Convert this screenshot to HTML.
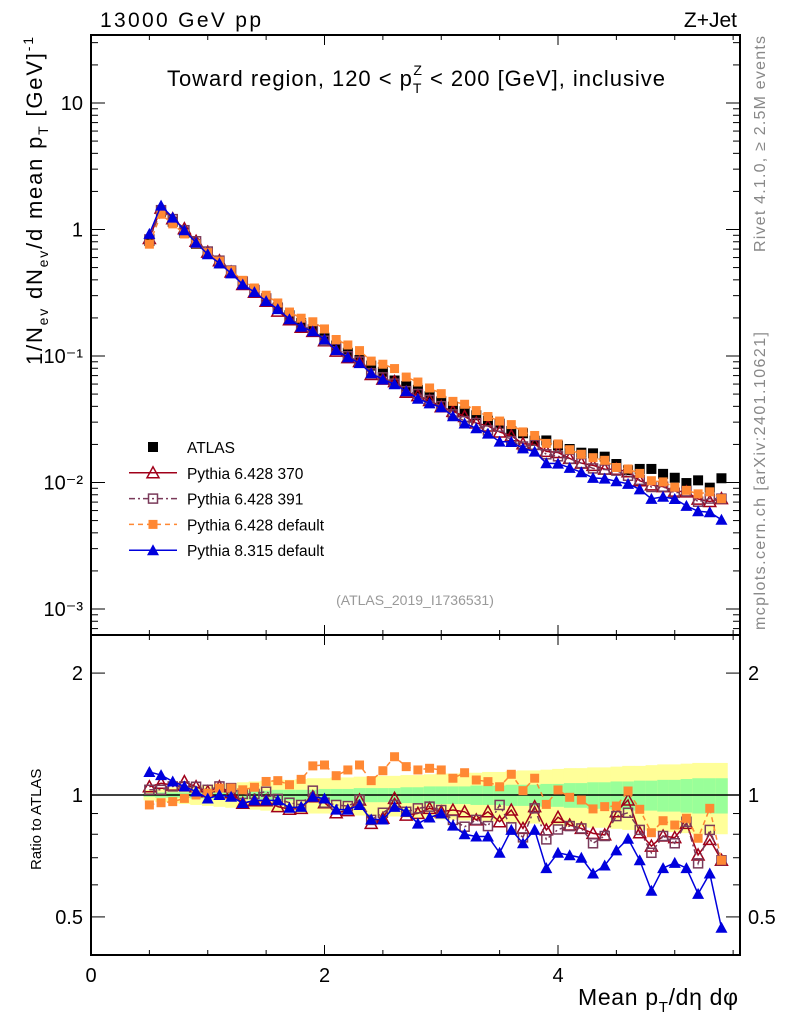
<!DOCTYPE html>
<html><head><meta charset="utf-8"><style>
body{margin:0;background:#fff;}
svg{display:block;font-family:"Liberation Sans",sans-serif;}
</style></head><body>
<svg id="chart" width="786" height="1024" viewBox="0 0 786 1024" xmlns="http://www.w3.org/2000/svg">
<rect width="786" height="1024" fill="#fff"/>
<g id="bands"></g><g id="grid"></g><g id="marks"></g><g id="axes"></g>
<text x="100" y="27" font-size="21" textLength="161" lengthAdjust="spacing">13000 GeV pp</text>
<text x="737" y="27" font-size="21" text-anchor="end">Z+Jet</text>
<text x="167" y="86" font-size="22" textLength="498" lengthAdjust="spacing">Toward region, 120 &lt; p<tspan font-size="14" dy="7">T</tspan><tspan font-size="14" dx="-9" dy="-18">Z</tspan><tspan dy="11"> &lt; 200 [GeV], inclusive</tspan></text>
<text x="415" y="605" font-size="14" fill="#999" text-anchor="middle">(ATLAS_2019_I1736531)</text>
<text transform="translate(765,252) rotate(-90)" font-size="16" fill="#888" textLength="216" lengthAdjust="spacing">Rivet 4.1.0, ≥ 2.5M events</text>
<text transform="translate(765,630) rotate(-90)" font-size="16" fill="#888" textLength="298" lengthAdjust="spacing">mcplots.cern.ch [arXiv:2401.10621]</text>
<text transform="translate(42,365) rotate(-90)" font-size="22" textLength="328" lengthAdjust="spacing">1/N<tspan font-size="14" dy="6">ev</tspan><tspan dy="-6"> dN</tspan><tspan font-size="14" dy="6">ev</tspan><tspan dy="-6">/d mean p</tspan><tspan font-size="14" dy="6">T</tspan><tspan dy="-6"> [GeV]</tspan><tspan font-size="14" dy="-9">-1</tspan></text>
<text transform="translate(41,870) rotate(-90)" font-size="15">Ratio to ATLAS</text>
<text x="578" y="1005" font-size="23" textLength="160" lengthAdjust="spacing">Mean p<tspan font-size="15" dy="7">T</tspan><tspan dy="-7">/dη dφ</tspan></text>
<g id="legend"></g>
</svg>
<script>
const xs=[];for(let i=0;i<50;i++)xs.push(+(0.5+0.1*i).toFixed(2));
const atlas=[0.81,1.38,1.15,0.94,0.77,0.65,0.54,0.455,0.385,0.33,0.28,0.242,0.21,0.182,0.158,0.138,0.121,0.106,0.093,0.084,0.075,0.064,0.058,0.054,0.048,0.0437,0.0398,0.0366,0.0340,0.0308,0.0292,0.0255,0.0245,0.0214,0.0215,0.0196,0.0184,0.0172,0.0170,0.0160,0.0140,0.0125,0.0128,0.0128,0.0117,0.0109,0.0099,0.0104,0.0091,0.0108];
const r370=[1.048,1.069,1.058,1.079,1.048,1.019,1.048,1.013,0.954,0.968,0.968,0.936,0.922,0.927,0.99,0.957,0.904,0.915,0.972,0.851,0.876,0.981,0.892,0.901,0.927,0.909,0.918,0.909,0.868,0.909,0.859,0.918,0.827,0.936,0.820,0.881,0.843,0.827,0.804,0.797,0.909,0.972,0.807,0.748,0.792,0.785,0.851,0.711,0.777,0.69];
const r391=[1.03,1.03,1.05,1.05,1.048,1.03,1.05,1.04,1.006,1.006,1.019,0.978,0.957,0.945,1.025,0.957,0.945,0.939,0.972,0.868,0.904,0.945,0.909,0.927,0.936,0.918,0.868,0.835,0.868,0.838,0.945,0.832,0.786,0.927,0.777,0.822,0.838,0.827,0.760,0.792,0.887,0.904,0.820,0.720,0.792,0.760,0.859,0.678,0.82,0.69];
const rdef=[0.945,0.957,0.963,0.981,1.0,1.01,1.04,1.04,1.03,1.045,1.08,1.085,1.06,1.093,1.18,1.186,1.116,1.153,1.186,1.085,1.148,1.243,1.175,1.153,1.164,1.153,1.10,1.135,1.089,1.079,1.048,1.125,1.025,1.10,0.948,1.029,0.987,0.972,0.924,0.936,0.939,1.023,0.922,0.807,0.864,0.843,0.876,0.782,0.927,0.69];
const r8=[1.14,1.12,1.08,1.05,1.02,0.98,1.0,0.99,0.955,0.97,0.97,0.97,0.93,0.935,0.99,0.98,0.92,0.92,0.945,0.87,0.87,0.935,0.91,0.85,0.88,0.90,0.84,0.80,0.79,0.79,0.72,0.82,0.76,0.82,0.66,0.72,0.71,0.70,0.64,0.67,0.73,0.78,0.69,0.58,0.66,0.68,0.66,0.57,0.64,0.47];
const errGreen=[0.01,0.015,0.015,0.015,0.02,0.02,0.02,0.02,0.025,0.025,0.025,0.03,0.03,0.03,0.03,0.035,0.035,0.035,0.04,0.04,0.04,0.04,0.045,0.045,0.05,0.05,0.05,0.05,0.055,0.055,0.055,0.06,0.06,0.06,0.065,0.065,0.07,0.07,0.075,0.075,0.08,0.08,0.085,0.085,0.09,0.09,0.095,0.1,0.1,0.1];
const errYellow=[0.03,0.04,0.045,0.05,0.055,0.06,0.065,0.07,0.075,0.08,0.085,0.09,0.09,0.095,0.1,0.1,0.105,0.105,0.11,0.11,0.115,0.115,0.12,0.12,0.125,0.13,0.13,0.135,0.135,0.14,0.14,0.145,0.15,0.15,0.155,0.16,0.165,0.165,0.17,0.17,0.175,0.18,0.18,0.185,0.19,0.19,0.195,0.2,0.2,0.2];
const yTicks=[0.001,0.01,0.1,1,10];
const yTickLabels=["10⁻³","10⁻²","10⁻¹","1","10"];
const rTicks=[0.5,1,2];
const xTicks=[0,2,4];

const L=91,R=740,T=35,MB=635,B=955;
const X=v=>L+v*116.75;
const Y=v=>103-(Math.log10(v)-1)*126.5;
const RY=v=>795-Math.log10(v)*405;
const NS="http://www.w3.org/2000/svg";
function mk(tag,attrs,parent){const e=document.createElementNS(NS,tag);for(const k in attrs)e.setAttribute(k,attrs[k]);parent.appendChild(e);return e;}
const gB=document.getElementById('bands'),gM=document.getElementById('marks'),gA=document.getElementById('axes'),gL=document.getElementById('legend');
const hw=5.8;
for(let i=0;i<xs.length;i++){
 const y1=mk('rect',{x:X(xs[i])-hw,width:2*hw+0.5,y:RY(1+errYellow[i]),height:RY(1-errYellow[i])-RY(1+errYellow[i]),fill:'#ffff99'},gB);
 
 
 const g1=mk('rect',{x:X(xs[i])-hw,width:2*hw+0.5,y:RY(1+errGreen[i]),height:RY(1-errGreen[i])-RY(1+errGreen[i]),fill:'#99ff99'},gB);
 
 
}
const one=mk('line',{x1:L,x2:R,y1:RY(1),y2:RY(1),stroke:'#000','stroke-width':1.5},gB);


function marker(type,x,y,color,parent){
 let e;
 if(type==='sq') e=mk('rect',{x:x-5,y:y-5,width:10,height:10,fill:color},parent);
 else if(type==='osq') e=mk('rect',{x:x-4.5,y:y-4.5,width:9,height:9,fill:'none',stroke:color,'stroke-width':1.5},parent);
 else if(type==='fsq') e=mk('rect',{x:x-4.5,y:y-4.5,width:9,height:9,fill:color},parent);
 else if(type==='otri') e=mk('path',{d:`M${x},${y-6}L${x+6},${y+5}L${x-6},${y+5}Z`,fill:'none',stroke:color,'stroke-width':1.5},parent);
 else e=mk('path',{d:`M${x},${y-6}L${x+6},${y+5}L${x-6},${y+5}Z`,fill:color},parent);
 return e;
}
const series=[
 {name:'pythia-6428-370',r:r370,color:'#a0001a',m:'otri',dash:''},
 {name:'pythia-6428-391',r:r391,color:'#7a3a5a',m:'osq',dash:'6,3,2,3'},
 {name:'pythia-6428-default',r:rdef,color:'#ff8833',m:'fsq',dash:'5,4'},
 {name:'pythia-8315-default',r:r8,color:'#0000dd',m:'ftri',dash:''}
];
atlas.forEach((v,i)=>{const e=marker('sq',X(xs[i]),Y(v),'#000',gM);
 
 });
series.forEach(s=>{
 const main=xs.map((x,i)=>[X(x),Y(atlas[i]*s.r[i])]);
 const rat=xs.map((x,i)=>[X(x),RY(s.r[i])]);
 const p1=mk('polyline',{points:main.map(p=>p.join(',')).join(' '),fill:'none',stroke:s.color,'stroke-width':1.5,'stroke-dasharray':s.dash},gM);
 
 
 const p2=mk('polyline',{points:rat.map(p=>p.join(',')).join(' '),fill:'none',stroke:s.color,'stroke-width':1.5,'stroke-dasharray':s.dash},gM);
 
 
 main.forEach(p=>{const e=marker(s.m,p[0],p[1],s.color,gM);
  
  });
 rat.forEach(p=>{const e=marker(s.m,p[0],p[1],s.color,gM);
  
  });
});
[[T,MB],[MB,B]].forEach(([a,b],k)=>{const f=mk('rect',{x:L,y:a,width:R-L,height:b-a,fill:'none',stroke:'#000','stroke-width':2},gA);
 
 });
for(let d=-4;d<=1;d++){for(let m=1;m<10;m++){const v=m*Math.pow(10,d);const y=Y(v);if(y<T||y>MB)continue;const len=m===1?14:7;
 mk('line',{x1:L,x2:L+len,y1:y,y2:y,stroke:'#000','stroke-width':1},gA);
 mk('line',{x1:R,x2:R-len,y1:y,y2:y,stroke:'#000','stroke-width':1},gA);}}
yTicks.forEach((v,i)=>{const t=mk('text',{x:L-8,y:Y(v)+7,'font-size':20,'text-anchor':'end'},gA);t.textContent=yTickLabels[i];
 
 });
[0.4,0.5,0.6,0.7,0.8,0.9,1,2].forEach(v=>{const y=RY(v);if(y<MB||y>B)return;const len=rTicks.includes(v)?14:7;
 mk('line',{x1:L,x2:L+len,y1:y,y2:y,stroke:'#000'},gA);mk('line',{x1:R,x2:R-len,y1:y,y2:y,stroke:'#000'},gA);});
rTicks.forEach(v=>{[[L-8,'end'],[R+8,'start']].forEach(([x,a])=>{const t=mk('text',{x:x,y:RY(v)+7,'font-size':20,'text-anchor':a},gA);t.textContent=v===0.5?'0.5':String(v);
 
 });});
for(let v=0;v<=5.5;v+=0.5){const x=X(v);const maj=xTicks.includes(v);const len=maj?10:5;
 mk('line',{x1:x,x2:x,y1:B,y2:B-len,stroke:'#000'},gA);mk('line',{x1:x,x2:x,y1:MB,y2:MB-len,stroke:'#000'},gA);
 mk('line',{x1:x,x2:x,y1:T,y2:T+len,stroke:'#000'},gA);mk('line',{x1:x,x2:x,y1:MB,y2:MB+len,stroke:'#000'},gA);}
xTicks.forEach(v=>{const t=mk('text',{x:X(v),y:B+27,'font-size':20,'text-anchor':'middle'},gA);t.textContent=String(v);
 
 });
const leg=[['ATLAS','#000','sq',''],['Pythia 6.428 370','#a0001a','otri',''],['Pythia 6.428 391','#7a3a5a','osq','6,3,2,3'],['Pythia 6.428 default','#ff8833','fsq','5,4'],['Pythia 8.315 default','#0000dd','ftri','']];
leg.forEach((l,i)=>{const y=447+i*25.8;
 if(i>0){const ln=mk('line',{x1:129,x2:177,y1:y,y2:y,stroke:l[1],'stroke-width':1.5,'stroke-dasharray':l[3]},gL);
  
  }
 const m=marker(l[2],153,y,l[1],gL);
 
 
 const t=mk('text',{x:187,y:y+6,'font-size':15.5},gL);t.textContent=l[0];
 
 });
</script>
</body></html>
